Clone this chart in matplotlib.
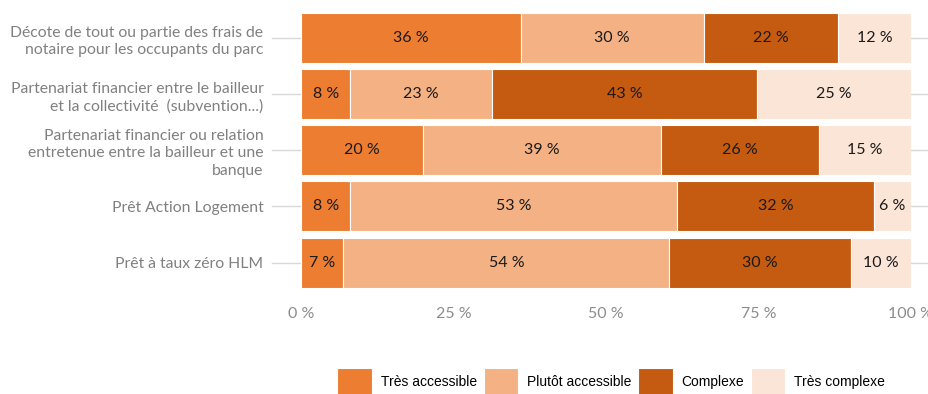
import matplotlib
matplotlib.use("Agg")
import matplotlib.pyplot as plt
import numpy as np

categories = [
    "Décote de tout ou partie des frais de\nnotaire pour les occupants du parc",
    "Partenariat financier entre le bailleur\net la collectivité  (subvention...)",
    "Partenariat financier ou relation\nentretenue entre la bailleur et une\nbanque",
    "Prêt Action Logement",
    "Prêt à taux zéro HLM",
]
series_names = ["Très accessible", "Plutôt accessible", "Complexe", "Très complexe"]
tres_accessible = [36, 8, 20, 8, 7]
plutot_accessible = [30, 23, 39, 53, 54]
complexe = [22, 43, 26, 32, 30]
tres_complexe = [12, 25, 15, 6, 10]
x_ticks = [0, 25, 50, 75, 100]
x_tick_labels = ["0 %", "25 %", "50 %", "75 %", "100 %"]

colors = ["#ED7D31", "#F4B183", "#C55A11", "#FBE5D6"]

data = np.array([tres_accessible, plutot_accessible, complexe, tres_complexe], dtype=float)
totals = data.sum(axis=0)
widths = data / totals * 100.0

fig = plt.figure(figsize=(9.29, 3.94), dpi=100)
ax = fig.add_axes([301/929, 1 - 290.6/394, (911-301)/929, (290.6-10)/394])

y = np.arange(len(categories))
left = np.zeros(len(categories))
for i, name in enumerate(series_names):
    ax.barh(y, widths[i], left=left, height=0.89, color=colors[i],
            edgecolor="white", linewidth=0.8, label=name, zorder=3)
    for j in range(len(categories)):
        ax.text(left[j] + widths[i][j] / 2, y[j], f"{int(data[i][j])} %",
                ha="center", va="center", fontsize=11.5, color="#1a1a1a",
                family="Lato", zorder=4)
    left += widths[i]

ax.set_xlim(0, 100)
ax.set_ylim(len(categories) - 0.5, -0.5)

# horizontal gridlines at category centers, extending beyond the plot area
for yy in y:
    ax.plot([-0.048, 1.03], [yy, yy], transform=ax.get_yaxis_transform(),
            color="#d9d9d9", linewidth=1.0, clip_on=False, zorder=1)

ax.set_yticks(y)
ax.set_yticklabels(categories, fontsize=11.3, color="#808080", family="Lato",
                   linespacing=1.3)
ax.set_xticks(x_ticks)
ax.set_xticklabels(x_tick_labels, fontsize=11.5, color="#8c8c8c", family="Lato")
ax.tick_params(axis="y", length=0, pad=27)
ax.tick_params(axis="x", length=0, pad=12)
for s in ax.spines.values():
    s.set_visible(False)

handles, labels = ax.get_legend_handles_labels()
leg = fig.legend(handles, labels, loc="center", ncol=4,
                 bbox_to_anchor=(611/929, 1 - 382/394), frameon=False,
                 prop={"family": "Liberation Sans", "size": 10},
                 handlelength=2.5, handleheight=2.8, handletextpad=0.6,
                 columnspacing=0.5, borderpad=0)
for h in leg.legend_handles:
    h.set_edgecolor("white")

fig.savefig("out.png", dpi=100)
